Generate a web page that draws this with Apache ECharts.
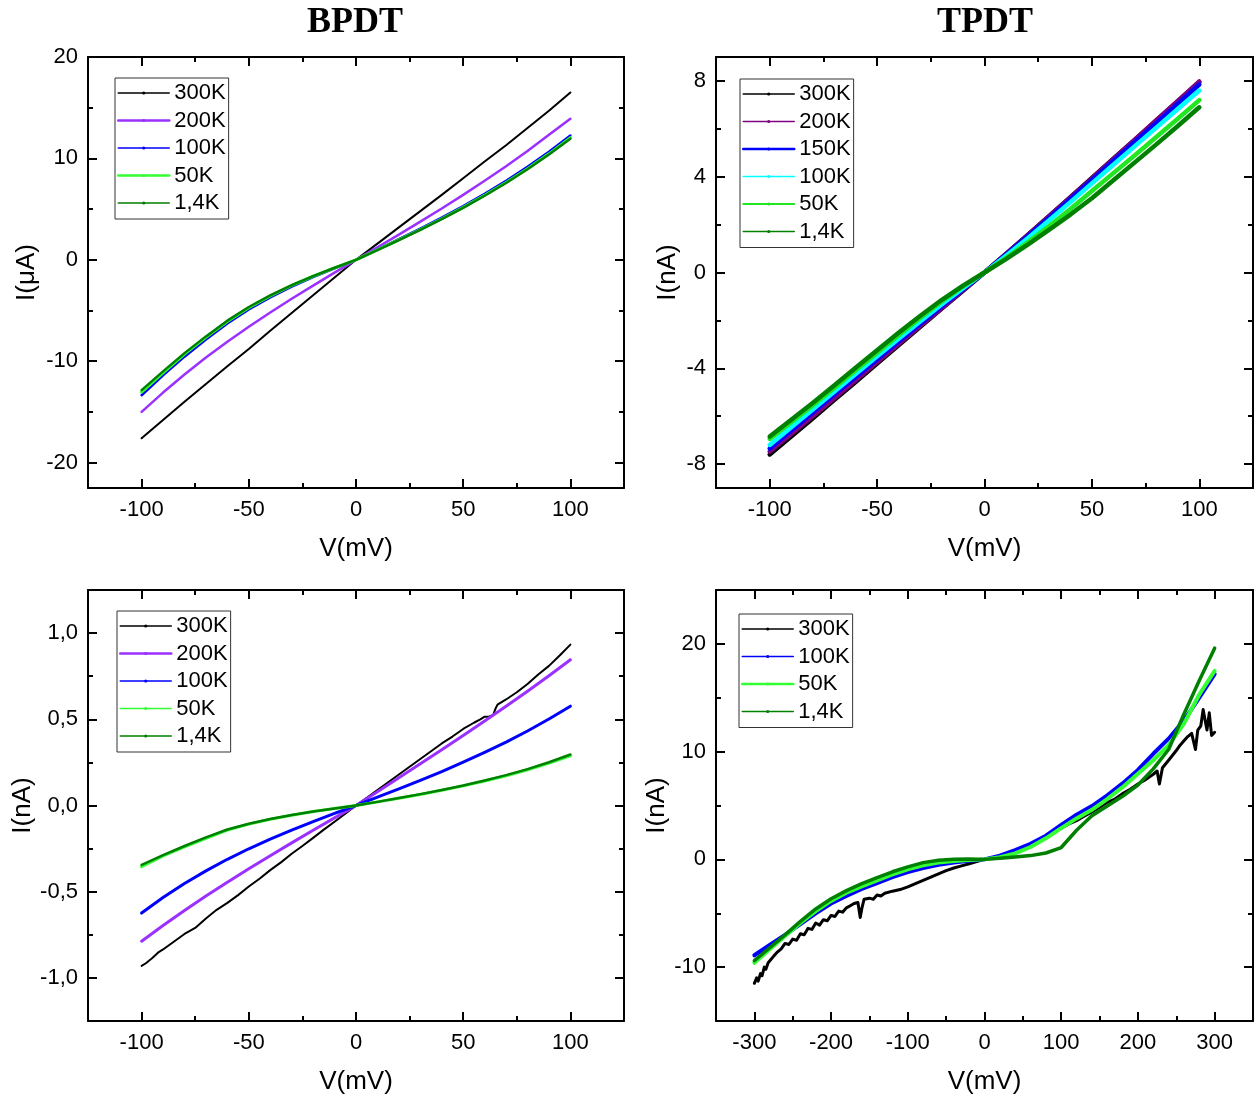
<!DOCTYPE html>
<html><head><meta charset="utf-8">
<script src="https://cdn.jsdelivr.net/npm/echarts@6/dist/echarts.min.js"></script>
<style>html,body{margin:0;padding:0;background:#fff}#c{width:1258px;height:1097px}</style>
</head><body><div id="c"></div><script>
// ---------- DATA ----------
// Panel A: BPDT, I in µA
const A_V = [-100,-90,-80,-70,-60,-50,-40,-30,-20,-10,0,10,20,30,40,50,60,70,80,90,100];
const A_300K = [-17.6,-15.8,-14.0,-12.25,-10.5,-8.8,-7.0,-5.25,-3.5,-1.75,0,1.6,3.2,4.8,6.4,8.05,9.7,11.3,13.0,14.7,16.5];
const A_200K = [-15.0,-13.09,-11.31,-9.64,-8.08,-6.6,-5.19,-3.84,-2.54,-1.26,0,1.24,2.49,3.76,5.06,6.4,7.79,9.23,10.74,12.33,13.9];
const A_100K = [-13.35,-11.4,-9.55,-7.85,-6.28,-4.9,-3.7,-2.65,-1.7,-0.84,0,1.01,2.03,3.07,4.16,5.3,6.51,7.79,9.17,10.65,12.25];
const A_50K = [-13.05,-11.15,-9.3,-7.65,-6.08,-4.72,-3.55,-2.53,-1.62,-0.79,0,0.97,1.97,2.98,4.05,5.17,6.37,7.63,8.99,10.45,12.05];
const A_1_4K = [-12.85,-11.0,-9.2,-7.55,-6.0,-4.65,-3.5,-2.5,-1.6,-0.78,0,0.96,1.95,2.96,4.02,5.13,6.32,7.58,8.93,10.38,11.95];

// Panel B: TPDT, I in nA
const B_V = [-100,-90,-80,-70,-60,-50,-40,-30,-20,-10,0,10,20,30,40,50,60,70,80,90,100];
const B_300K = [-7.6,-6.85,-6.1,-5.33,-4.57,-3.8,-3.04,-2.28,-1.52,-0.76,0,0.78,1.56,2.35,3.15,3.95,4.75,5.55,6.35,7.15,7.95];
const B_200K = [-7.48,-6.75,-6.0,-5.25,-4.5,-3.74,-2.99,-2.24,-1.49,-0.74,0,0.77,1.55,2.34,3.13,3.93,4.74,5.55,6.36,7.17,7.98];
const B_150K = [-7.35,-6.6,-5.85,-5.1,-4.36,-3.62,-2.88,-2.15,-1.42,-0.70,0,0.74,1.5,2.28,3.07,3.87,4.67,5.46,6.25,7.05,7.85];
const B_100K = [-7.2,-6.46,-5.72,-4.98,-4.24,-3.5,-2.77,-2.05,-1.34,-0.66,0,0.7,1.42,2.17,2.94,3.72,4.5,5.28,6.05,6.83,7.6];
const B_50K = [-6.95,-6.25,-5.55,-4.82,-4.08,-3.35,-2.62,-1.9,-1.21,-0.58,0,0.6,1.25,1.93,2.65,3.4,4.15,4.9,5.66,6.42,7.2];
const B_1_4K = [-6.85,-6.15,-5.45,-4.72,-3.98,-3.25,-2.52,-1.82,-1.15,-0.55,0,0.56,1.15,1.78,2.42,3.1,3.85,4.6,5.35,6.12,6.9];

// Panel C: BPDT, I in nA
const C_V = [-100,-90,-80,-70,-60,-50,-40,-30,-20,-10,0,10,20,30,40,50,60,70,80,90,100];
const C_V300 = [-100,-98,-95,-92,-90,-85,-80,-75,-70,-65,-60,-55,-50,-45,-40,-35,-30,-25,-20,-15,-10,-5,0,
  5,10,15,20,25,30,35,40,45,50,55,58,60,62,64,65,66,70,75,80,85,90,95,100];
const C_300K = [-0.93,-0.915,-0.885,-0.85,-0.835,-0.79,-0.745,-0.71,-0.655,-0.605,-0.565,-0.52,-0.47,-0.425,-0.375,-0.33,-0.28,-0.235,-0.188,-0.14,-0.094,-0.047,0,
  0.045,0.09,0.135,0.18,0.225,0.27,0.315,0.36,0.40,0.444,0.48,0.50,0.515,0.515,0.525,0.56,0.585,0.615,0.657,0.705,0.76,0.81,0.87,0.933];
const C_200K = [-0.787,-0.696,-0.609,-0.525,-0.445,-0.367,-0.291,-0.217,-0.144,-0.072,0,0.080,0.161,0.242,0.323,0.406,0.490,0.576,0.663,0.753,0.845];
const C_100K = [-0.624,-0.534,-0.452,-0.379,-0.312,-0.251,-0.195,-0.143,-0.094,-0.046,0,0.048,0.096,0.146,0.197,0.251,0.308,0.368,0.432,0.502,0.576];
const C_50K = [-0.355,-0.292,-0.240,-0.190,-0.143,-0.108,-0.080,-0.056,-0.035,-0.017,0,0.021,0.042,0.064,0.088,0.114,0.142,0.172,0.207,0.246,0.288];
const C_1_4K = [-0.345,-0.288,-0.235,-0.185,-0.139,-0.106,-0.078,-0.055,-0.035,-0.017,0,0.021,0.043,0.066,0.090,0.116,0.145,0.176,0.211,0.251,0.296];

// Panel D: TPDT, wide sweep, I in nA
const D_V = [-300,-280,-260,-240,-220,-200,-180,-160,-140,-120,-100,-80,-60,-40,-20,0,20,40,60,80,100,120,140,160,180,200,220,240,260,280,300];
const D_100K = [-8.9,-7.95,-7.0,-6.0,-5.0,-4.1,-3.4,-2.75,-2.2,-1.65,-1.17,-0.8,-0.5,-0.3,-0.13,0,0.35,0.85,1.45,2.2,3.2,4.15,4.95,5.95,7.05,8.3,9.8,11.2,12.9,15.0,17.2];
const D_50K = [-9.6,-8.35,-7.1,-5.9,-4.8,-3.85,-3.1,-2.5,-1.95,-1.4,-0.92,-0.55,-0.3,-0.15,-0.05,0,0.2,0.55,1.15,1.95,2.9,3.8,4.6,5.6,6.7,7.95,9.2,10.6,12.6,15.3,17.5];
const D_1_4K = [-9.4,-8.2,-7.0,-5.75,-4.6,-3.65,-2.9,-2.25,-1.7,-1.15,-0.7,-0.3,-0.08,0.02,0.03,0,0.1,0.22,0.35,0.59,1.1,2.7,4.05,4.95,5.85,6.9,8.4,10.2,13.5,16.6,19.6];
const D_V300 = [-300,-297,-295,-292,-290,-287,-285,-282,-280,-275,-270,-265,-260,-255,-250,-245,-240,-235,-230,-225,
  -220,-215,-210,-205,-200,-195,-190,-185,-180,-175,-170,-165,-162,-160,-157,-150,-145,-140,-135,-130,
  -120,-110,-100,-90,-80,-70,-60,-50,-40,-30,-20,-10,0,
  10,20,30,40,50,60,70,80,90,100,110,120,130,140,150,160,170,180,190,200,210,220,
  225,228,232,240,250,255,260,265,270,275,278,282,285,290,293,296,300];
const D_300K = [-11.5,-11.0,-11.3,-10.6,-10.8,-10.0,-10.2,-9.6,-9.7,-9.0,-8.6,-8.3,-7.8,-7.9,-7.4,-7.5,-6.9,-7.0,-6.4,-6.5,
  -5.9,-6.1,-5.6,-5.7,-5.2,-5.3,-4.8,-4.9,-4.5,-4.3,-4.1,-4.0,-5.4,-4.6,-3.7,-3.6,-3.7,-3.3,-3.4,-3.15,
  -2.95,-2.8,-2.55,-2.25,-1.95,-1.65,-1.35,-1.05,-0.8,-0.6,-0.4,-0.2,0,
  0.15,0.3,0.45,0.6,0.9,1.25,1.6,2.05,2.5,2.9,3.3,3.6,4.0,4.4,4.85,5.3,5.6,6.1,6.5,7.0,7.4,7.9,
  8.2,7.0,8.5,9.2,10.1,10.6,11.0,11.4,11.7,10.2,12.0,12.4,13.9,12.0,13.6,11.5,11.8];

// Tick values
const X_MAJ_100 = [-100,-50,0,50,100], X_MIN_100 = [-75,-25,25,75];
const X_MAJ_300 = [-300,-200,-100,0,100,200,300], X_MIN_300 = [-250,-150,-50,50,150,250];
const Y_MAJ_A = [-20,-10,0,10,20], Y_MIN_A = [-15,-5,5,15];
const Y_MAJ_B = [-8,-4,0,4,8], Y_MIN_B = [-6,-2,2,6];
const Y_MAJ_C = [-1,-0.5,0,0.5,1], Y_MIN_C = [-0.75,-0.25,0.25,0.75];
const Y_MAJ_D = [-10,0,10,20], Y_MIN_D = [-5,5,15];

// ---------- CHART ----------
const FONT = '"Liberation Sans", Arial, sans-serif';
const zip = (xs, ys) => xs.map((x, i) => [x, ys[i]]);
const BLK = '#000000';

function axisSet(dim, gi, min, max, major, minor, name, nameGap, fmt) {
  const posA = dim === 'x' ? 'bottom' : 'left';
  const posB = dim === 'x' ? 'top' : 'right';
  const base = {type: 'value', gridIndex: gi, min: min, max: max, splitLine: {show: false}, silent: true};
  const line = {show: true, onZero: false, lineStyle: {color: BLK, width: 2}};
  const noLine = {show: false, onZero: false};
  const tick = (vals, len) => ({show: true, inside: true, length: len, customValues: vals, lineStyle: {color: BLK, width: 2}});
  const main = Object.assign({}, base, {
    position: posA, axisLine: line, axisTick: tick(major, 9),
    axisLabel: {show: true, customValues: major, margin: dim === 'x' ? 11 : 10, color: BLK, fontSize: 22, fontFamily: FONT,
      formatter: fmt || (v => String(v))},
    name: name, nameLocation: 'middle', nameGap: nameGap, nameMoveOverlap: false,
    nameTextStyle: {fontSize: 26, color: BLK, fontFamily: FONT}
  });
  return [
    main,
    Object.assign({}, base, {position: posA, axisLine: noLine, axisTick: tick(minor, 5), axisLabel: {show: false}}),
    Object.assign({}, base, {position: posB, axisLine: line, axisTick: tick(major, 9), axisLabel: {show: false}}),
    Object.assign({}, base, {position: posB, axisLine: noLine, axisTick: tick(minor, 5), axisLabel: {show: false}})
  ];
}

const commaFmt = v => v.toFixed(1).replace('.', ',');

const xAxis = [].concat(
  axisSet('x', 0, -125, 125, X_MAJ_100, X_MIN_100, 'V(mV)', 48),
  axisSet('x', 1, -125, 125, X_MAJ_100, X_MIN_100, 'V(mV)', 48),
  axisSet('x', 2, -125, 125, X_MAJ_100, X_MIN_100, 'V(mV)', 48),
  axisSet('x', 3, -350, 350, X_MAJ_300, X_MIN_300, 'V(mV)', 48)
);
const yAxis = [].concat(
  axisSet('y', 0, -22.5, 20, Y_MAJ_A, Y_MIN_A, 'I(μA)', 48),
  axisSet('y', 1, -9, 9, Y_MAJ_B, Y_MIN_B, 'I(nA)', 35),
  axisSet('y', 2, -1.25, 1.25, Y_MAJ_C, Y_MIN_C, 'I(nA)', 52, commaFmt),
  axisSet('y', 3, -15, 25, Y_MAJ_D, Y_MIN_D, 'I(nA)', 46)
);

function ser(gi, key, label, xs, ys, color, width) {
  return {
    type: 'line', name: key + '|' + label, xAxisIndex: gi * 4, yAxisIndex: gi * 4,
    data: zip(xs, ys), showSymbol: false, symbol: 'circle', symbolSize: 4,
    smooth: false,
    lineStyle: {color: color, width: width, join: 'round', cap: 'round'}, itemStyle: {color: color},
    animation: false, emphasis: {disabled: true}
  };
}

const COL = {
  black: '#000000', purple: '#9b30ff', blue: '#0000ff', lgreen: '#33ff33', dgreen: '#008000',
  dpurple: '#800080', cyan: '#00ffff', lime: '#22e622'
};

const series = [
  ser(0, 'A', '300K', A_V, A_300K, COL.black, 2),
  ser(0, 'A', '200K', A_V, A_200K, COL.purple, 2.5),
  ser(0, 'A', '100K', A_V, A_100K, COL.blue, 2.5),
  ser(0, 'A', '50K', A_V, A_50K, COL.lgreen, 3),
  ser(0, 'A', '1,4K', A_V, A_1_4K, COL.dgreen, 2.5),

  ser(1, 'B', '300K', B_V, B_300K, COL.black, 4.5),
  ser(1, 'B', '200K', B_V, B_200K, COL.dpurple, 4.5),
  ser(1, 'B', '150K', B_V, B_150K, COL.blue, 4.5),
  ser(1, 'B', '100K', B_V, B_100K, COL.cyan, 4.5),
  ser(1, 'B', '50K', B_V, B_50K, COL.lime, 4.5),
  ser(1, 'B', '1,4K', B_V, B_1_4K, COL.dgreen, 4.5),

  ser(2, 'C', '300K', C_V300, C_300K, COL.black, 2),
  ser(2, 'C', '200K', C_V, C_200K, COL.purple, 3),
  ser(2, 'C', '100K', C_V, C_100K, COL.blue, 3),
  ser(2, 'C', '50K', C_V, C_50K, COL.lgreen, 3),
  ser(2, 'C', '1,4K', C_V, C_1_4K, COL.dgreen, 2.5),

  ser(3, 'D', '300K', D_V300, D_300K, COL.black, 3),
  ser(3, 'D', '100K', D_V, D_100K, COL.blue, 4),
  ser(3, 'D', '50K', D_V, D_50K, COL.lgreen, 4),
  ser(3, 'D', '1,4K', D_V, D_1_4K, COL.dgreen, 3.5)
];

function legend(key, labels, widths, left, top) {
  return {
    orient: 'vertical', left: left, top: top, padding: [4, 3, 5, 2],
    itemWidth: 51, itemHeight: 4, itemGap: 5.5,
    borderColor: '#333', borderWidth: 1, backgroundColor: '#fff',
    selectedMode: false,
    textStyle: {fontSize: 22, color: BLK, fontFamily: FONT},
    formatter: n => n.split('|')[1],
    data: labels.map((l, i) => ({name: key + '|' + l, lineStyle: {width: widths[i]}}))
  };
}

const option = {
  backgroundColor: '#fff',
  animation: false,
  grid: [
    {left: 88, top: 57, width: 536, height: 431, outerBoundsMode: 'none', containLabel: false},
    {left: 716, top: 57, width: 537, height: 431, outerBoundsMode: 'none', containLabel: false},
    {left: 88, top: 590, width: 536, height: 431, outerBoundsMode: 'none', containLabel: false},
    {left: 716, top: 590, width: 537, height: 431, outerBoundsMode: 'none', containLabel: false}
  ],
  xAxis: xAxis,
  yAxis: yAxis,
  legend: [
    legend('A', ['300K', '200K', '100K', '50K', '1,4K'], [1.5, 2.5, 1.5, 2.5, 1.5], 115, 78),
    legend('B', ['300K', '200K', '150K', '100K', '50K', '1,4K'], [1.5, 1.5, 2.5, 1.5, 2, 1.5], 740, 79),
    legend('C', ['300K', '200K', '100K', '50K', '1,4K'], [1.5, 2.5, 1.5, 1.5, 1.5], 117, 611),
    legend('D', ['300K', '100K', '50K', '1,4K'], [1.5, 1.5, 2.5, 1.5], 739, 614)
  ],
  graphic: [
    {type: 'text', silent: true, style: {text: 'BPDT', x: 355, y: 23, align: 'center', verticalAlign: 'middle',
      font: 'bold 36px "Liberation Serif", "Times New Roman", serif', fill: BLK}},
    {type: 'text', silent: true, style: {text: 'TPDT', x: 985, y: 23, align: 'center', verticalAlign: 'middle',
      font: 'bold 36px "Liberation Serif", "Times New Roman", serif', fill: BLK}}
  ],
  series: series
};

const chart = echarts.init(document.getElementById('c'), null, {renderer: 'canvas'});
chart.setOption(option);
</script></body></html>
